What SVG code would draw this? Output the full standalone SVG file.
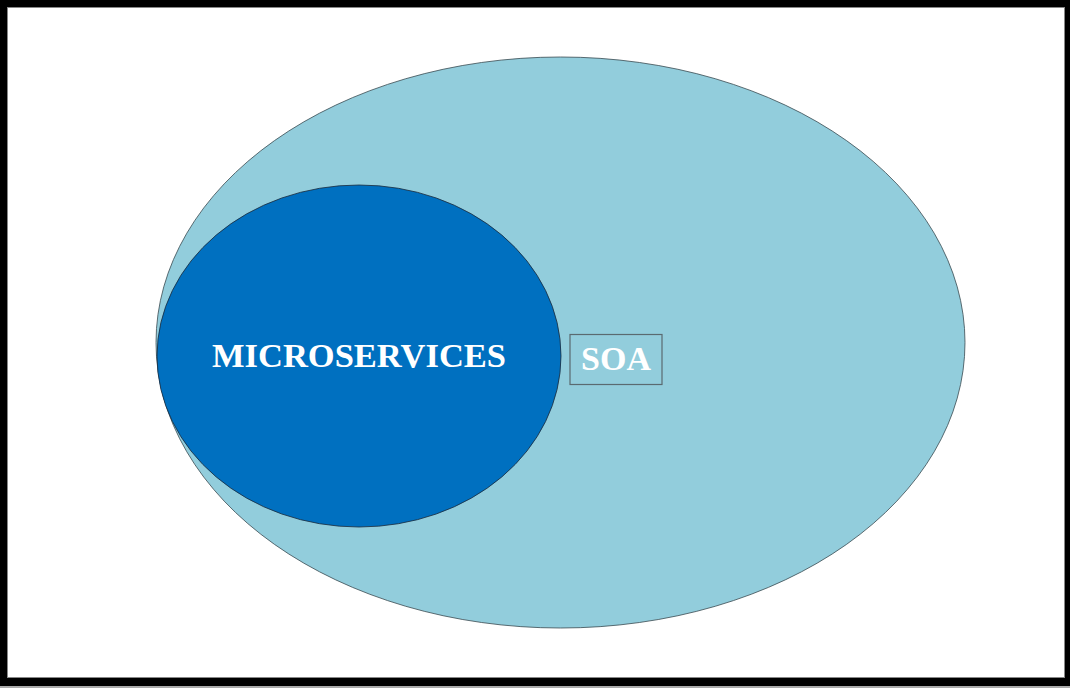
<svg xmlns="http://www.w3.org/2000/svg" width="1070" height="688" viewBox="0 0 1070 688">
<style>
.lbl{font-family:"Liberation Serif","Times New Roman",serif;font-weight:bold;fill:#fff;text-anchor:middle}
</style>
<rect x="0" y="0" width="1070" height="688" fill="#fff"/>
<g id="frame">
<rect x="0" y="0" width="1070" height="686" fill="#000"/>
<rect x="7.5" y="7.5" width="1057" height="670" fill="#fff" stroke="#888" stroke-width="1"/>
<rect x="0" y="686" width="1070" height="2" fill="#aaa"/>
</g>
<g id="soa">
<ellipse cx="560.5" cy="342.5" rx="404.5" ry="285.5" fill="#92CDDC" stroke="#3a4a50" stroke-width="0.8"/>
<rect x="570" y="334.5" width="92" height="50" fill="none" stroke="#5a6a70" stroke-width="1.2"/>
<text class="lbl" x="616" y="370" font-size="34">SOA</text>
</g>
<g id="microservices">
<ellipse cx="359" cy="356" rx="202" ry="171" fill="#0070C0" stroke="#1a2a3a" stroke-width="0.8"/>
<text class="lbl" x="359" y="367" font-size="34.5">MICROSERVICES</text>
</g>
<g id="connectors"></g>
</svg>
